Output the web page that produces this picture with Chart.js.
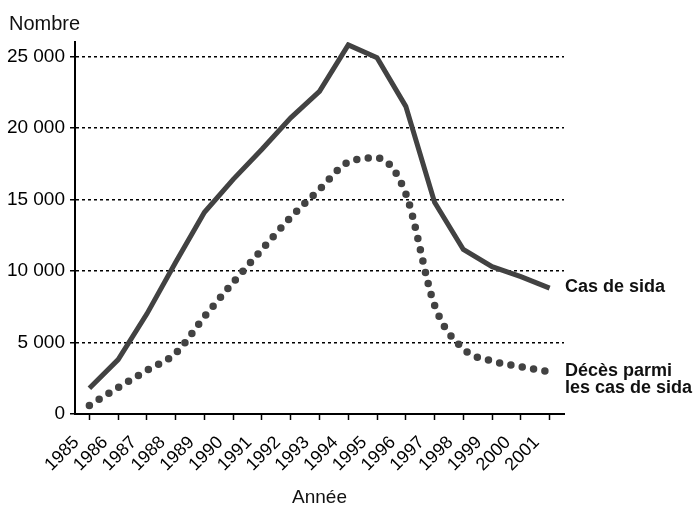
<!DOCTYPE html>
<html>
<head>
<meta charset="utf-8">
<script src="https://cdn.jsdelivr.net/npm/chart.js@4"></script>
<style>
  html, body { margin: 0; padding: 0; background: #fff; }
  #wrap { width: 693px; height: 512px; }
</style>
</head>
<body>
<div id="wrap"><canvas id="chart" width="693" height="512"></canvas></div>
<script>
// data
const years = ['1985', '1986', '1987', '1988', '1989', '1990', '1991', '1992', '1993',
               '1994', '1995', '1996', '1997', '1998', '1999', '2000', '2001'];
const casSida = [1800, 3800, 7000, 10600, 14100, 16400, 18500, 20700, 22550,
                 25800, 24900, 21500, 14800, 11500, 10300, 9600, 8800];
const decesSida = [600, 1850, 3050, 4250, 6800, 9200, 11500, 13750, 15700,
                   17600, 17900, 15400, 7600, 4550, 3700, 3300, 2950];
const yTicks = [0, 5000, 10000, 15000, 20000, 25000];

const FONT = '"Liberation Sans", Arial, sans-serif';
const lineColor = '#424242';

// free text: y title and the series names at the line ends
const textPlugin = {
    id: 'freeText',
    afterDraw(chart) {
        const { ctx, chartArea, scales } = chart;
        const last = years.length - 1;
        ctx.save();
        ctx.fillStyle = '#111';
        ctx.font = '20px ' + FONT;
        ctx.textBaseline = 'alphabetic';
        ctx.fillText('Nombre', 9, 30);

        ctx.font = 'bold 18px ' + FONT;
        ctx.textBaseline = 'middle';
        const x = chartArea.right + 1;
        ctx.fillText('Cas de sida', x, scales.y.getPixelForValue(casSida[last]) - 1);
        const yd = scales.y.getPixelForValue(decesSida[last]);
        ctx.fillText('Décès parmi', x, yd - 1);
        ctx.fillText('les cas de sida', x, yd + 16);
        ctx.restore();
    }
};

const ctx = document.getElementById('chart').getContext('2d');
new Chart(ctx, {
    type: 'line',
    data: {
        labels: years,
        datasets: [{
            label: 'Cas de sida',
            data: casSida,
            borderColor: lineColor,
            borderWidth: 5,
            borderJoinStyle: 'miter',
            pointRadius: 0,
            tension: 0,
            fill: false
        }, {
            label: 'Décès parmi les cas de sida',
            data: decesSida,
            borderColor: lineColor,
            borderWidth: 7.5,
            borderCapStyle: 'round',
            borderDash: [0, 11.5],
            pointRadius: 0,
            cubicInterpolationMode: 'monotone',
            fill: false
        }]
    },
    options: {
        responsive: false,
        animation: false,
        devicePixelRatio: 1,
        layout: { padding: { top: 42, right: 129, left: 0, bottom: 0 } },
        plugins: {
            legend: { display: false },
            tooltip: { enabled: false }
        },
        scales: {
            x: {
                offset: true,
                grid: {
                    drawOnChartArea: false,
                    drawTicks: true,
                    tickLength: 6,
                    tickColor: '#000',
                    tickWidth: 1.5
                },
                border: { display: true, color: '#000', width: 2 },
                ticks: {
                    color: '#000',
                    font: { family: FONT, size: 18 },
                    minRotation: 45,
                    maxRotation: 45,
                    autoSkip: false,
                    padding: 12,
                    labelOffset: -13
                },
                title: {
                    display: true,
                    text: 'Année',
                    color: '#111',
                    font: { family: FONT, size: 19 },
                    padding: { top: 4, bottom: 3 }
                },
                afterFit(scale) { scale.height = 98; }
            },
            y: {
                min: 0,
                max: 26000,
                afterBuildTicks(scale) {
                    scale.ticks = yTicks.map(v => ({ value: v }));
                },
                grid: {
                    color: '#000',
                    lineWidth: 1.5,
                    tickLength: 5,
                    tickColor: '#000',
                    tickWidth: 1.5,
                    tickBorderDash: []
                },
                border: { display: true, color: '#000', width: 2, dash: [3, 3] },
                ticks: {
                    color: '#000',
                    font: { family: FONT, size: 19 },
                    padding: 5,
                    callback: v => String(v).replace(/\B(?=(\d{3})+(?!\d))/g, ' ')
                },
                afterFit(scale) { scale.width = 75; }
            }
        }
    },
    plugins: [textPlugin]
});
</script>
</body>
</html>
